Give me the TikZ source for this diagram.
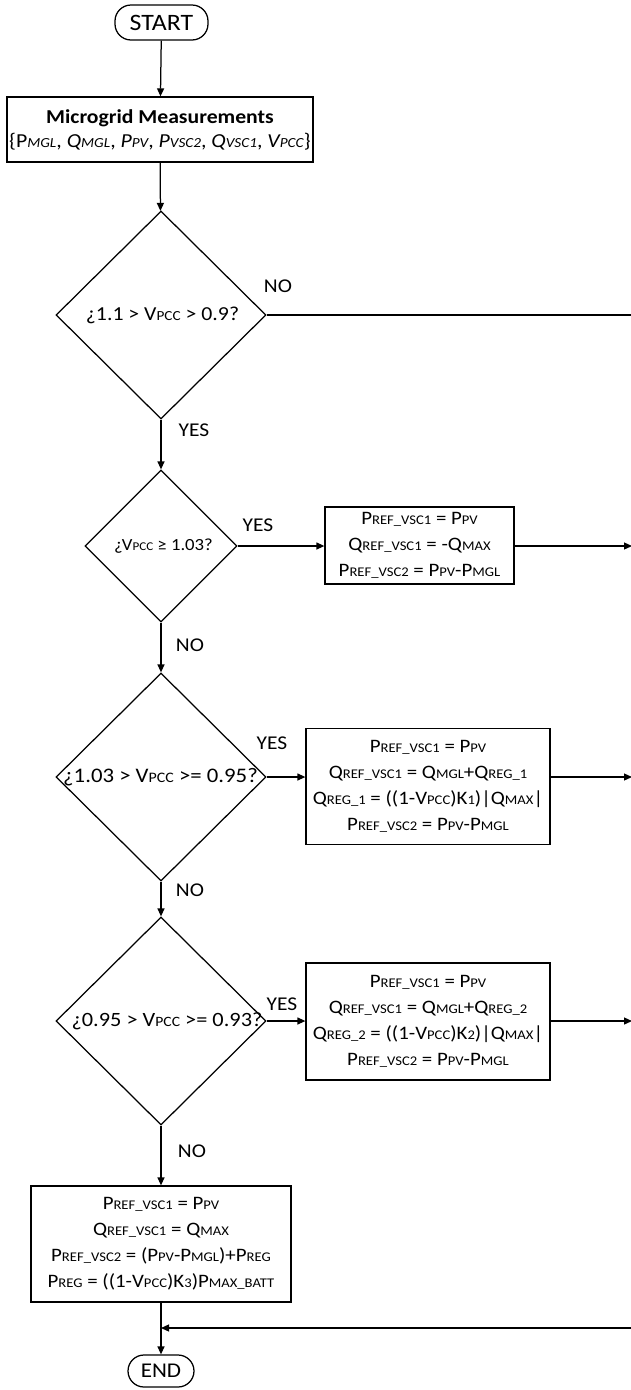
\documentclass[tikz,border=0pt]{standalone}
\usepackage{fontspec}
\setmainfont{Carlito}[FakeStretch=1.1]
\usetikzlibrary{shapes.geometric,arrows.meta}
\makeatletter
\newcommand{\sm}[1]{{\fontsize{\dimexpr 0.7\dimexpr\f@size pt\relax\relax}{1pt}\selectfont #1}}
\makeatother
\begin{document}
\begin{tikzpicture}[x=1pt,y=-1pt,
  line width=1.25pt,
  arr/.style={-{Triangle[length=8pt,width=7pt]}},
  term/.style={draw, rounded corners=16pt, inner sep=0pt},
  proc/.style={draw, inner sep=0pt, align=center, font=\fontsize{19}{26}\selectfont},
  dec/.style={draw, diamond, inner sep=0pt},
  dtxt/.style={inner sep=0pt},
  lbl/.style={inner sep=0pt, font=\fontsize{19.5}{19.5}\selectfont}
]
\useasboundingbox (0,0) rectangle (630,1390);

% terminators
\node[term, minimum width=93pt, minimum height=35pt, font=\fontsize{23.5}{23.5}\selectfont] (start) at (161.5,22.5) {START};
\node[term, minimum width=66pt, minimum height=32pt, font=\fontsize{21}{21}\selectfont] (end) at (161,1371) {END};

% measurement box
\node[draw, inner sep=0pt, align=center, minimum width=306pt, minimum height=65pt,
      font=\fontsize{19.8}{24}\selectfont] (meas) at (160,129.5)
  {{\fontsize{19.7}{24}\selectfont\bfseries Microgrid Measurements}\\
   \{P{\itshape\sm{MGL}}, \textit{Q\sm{MGL}}, \textit{P\sm{PV}}, \textit{P\sm{VSC2}}, \textit{Q\sm{VSC1}}, \textit{V\sm{PCC}}\}};

% decisions
\node[dec, minimum width=210pt, minimum height=208pt] (d1) at (161,315) {};
\node[dtxt, font=\fontsize{19.8}{19.8}\selectfont] (t1) at (162.5,315) {¿1.1 > V\sm{PCC} > 0.9?};
\node[dec, minimum width=152pt, minimum height=152pt] (d2) at (161,546) {};
\node[dtxt, font=\fontsize{17}{17}\selectfont] (t2) at (163.5,546) {¿V\sm{PCC} ≥ 1.03?};
\node[dec, minimum width=210pt, minimum height=208pt] (d3) at (161,777) {};
\node[dtxt, font=\fontsize{20.7}{20.7}\selectfont] (t3) at (160.5,777) {¿1.03 > V\sm{PCC} >= 0.95?};
\node[dec, minimum width=210pt, minimum height=208pt] (d4) at (161,1021) {};
\node[dtxt, font=\fontsize{20.3}{20.3}\selectfont] (t4) at (167,1021) {¿0.95 > V\sm{PCC} >= 0.93?};

% process boxes
\node[proc, minimum width=189pt, minimum height=77pt] (b2) at (419.5,545.5)
  {P\sm{REF\_VSC1} = P\sm{PV}\\
   Q\sm{REF\_VSC1} = -Q\sm{MAX}\\
   P\sm{REF\_VSC2} = P\sm{PV}-P\sm{MGL}};
\node[proc, minimum width=244pt, minimum height=116pt] (b3) at (428,786.5)
  {P\sm{REF\_VSC1} = P\sm{PV}\\
   Q\sm{REF\_VSC1} = Q\sm{MGL}+Q\sm{REG\_1}\\
   Q\sm{REG\_1} = ((1-V\sm{PCC})K\sm{1})|Q\sm{MAX}|\\
   P\sm{REF\_VSC2} = P\sm{PV}-P\sm{MGL}};
\node[proc, minimum width=244pt, minimum height=117pt] (b4) at (428,1021.5)
  {P\sm{REF\_VSC1} = P\sm{PV}\\
   Q\sm{REF\_VSC1} = Q\sm{MGL}+Q\sm{REG\_2}\\
   Q\sm{REG\_2} = ((1-V\sm{PCC})K\sm{2})|Q\sm{MAX}|\\
   P\sm{REF\_VSC2} = P\sm{PV}-P\sm{MGL}};
\node[proc, minimum width=260pt, minimum height=116pt] (b5) at (161,1244)
  {P\sm{REF\_VSC1} = P\sm{PV}\\
   Q\sm{REF\_VSC1} = Q\sm{MAX}\\
   P\sm{REF\_VSC2} = (P\sm{PV}-P\sm{MGL})+P\sm{REG}\\
   P\sm{REG} = ((1-V\sm{PCC})K\sm{3})P\sm{MAX\_BATT}};

% collector coordinates just at the right edge
\coordinate (ctop) at (632,315);
\coordinate (cbot) at (632,1328);
\coordinate (join) at (161,1328);

% labels
\node[lbl] (no1) at (278,286) {NO};
\node[lbl] (yes1) at (194,430) {YES};
\node[lbl] (yes2) at (258,525) {YES};
\node[lbl] (no2) at (190,645) {NO};
\node[lbl] (yes3) at (272,743) {YES};
\node[lbl] (no3) at (190,890) {NO};
\node[lbl] (yes4) at (282,1004) {YES};
\node[lbl] (no4) at (192,1151) {NO};

% main flow
\draw[arr] (start) -- (meas);
\draw[arr] (meas) -- (d1);
\draw[arr] (d1) -- (d2);
\draw[arr] (d2) -- (d3);
\draw[arr] (d3) -- (d4);
\draw[arr] (d4) -- (b5);
\draw[arr] (b5) -- (end);

% yes branches
\draw[arr] (d2.east) -- (d2.east -| b2.west);
\draw[arr] (d3.east) -- (d3.east -| b3.west);
\draw[arr] (d4.east) -- (d4.east -| b4.west);

% into the collector
\draw (d1.east) -- (ctop);
\draw[arr] (b2.east |- d2.east) -- (d2.east -| ctop);
\draw[arr] (b3.east |- d3.east) -- (d3.east -| ctop);
\draw[arr] (b4.east |- d4.east) -- (d4.east -| ctop);
\draw (ctop) -- (cbot);
\draw[arr] (cbot) -- (join);
\end{tikzpicture}
\end{document}
